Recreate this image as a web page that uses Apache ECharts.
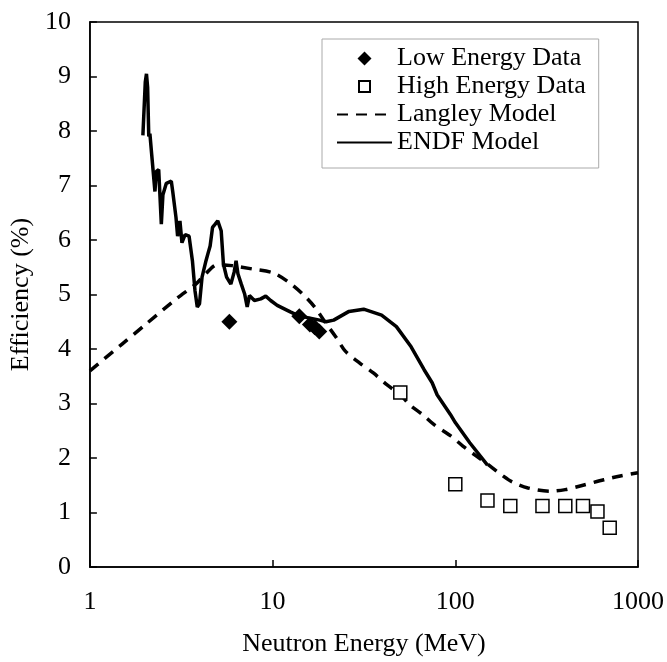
<!DOCTYPE html>
<html>
<head>
<meta charset="utf-8">
<script src="https://cdn.jsdelivr.net/npm/echarts@6/dist/echarts.min.js"></script>
<style>
  html, body { margin: 0; padding: 0; background: #fff; }
  #chart { width: 667px; height: 662px; }
</style>
</head>
<body>
<div id="chart"></div>
<script>
// measured data (energy in MeV, efficiency in %)
const lowE = [5.8, 14, 16, 17, 18];
const lowEff = [4.5, 4.6, 4.45, 4.4, 4.32];

const highE = [50, 100, 150, 200, 300, 400, 500, 600, 700];
const highEff = [3.2, 1.52, 1.22, 1.12, 1.12, 1.12, 1.12, 1.02, 0.72];

// Langley model (dashed)
const langE = [1, 1.5, 2, 3, 3.8, 4.3, 5, 6, 7.7, 10, 12.2, 14.5, 17, 19.6, 22.2, 25, 30, 35.6, 42, 50, 57, 66, 76, 94, 110, 130, 154, 181, 205, 250, 330, 400, 500, 650, 800, 1000];
const langEff = [3.6, 4.09, 4.44, 4.93, 5.19, 5.38, 5.55, 5.53, 5.47, 5.4, 5.23, 5.02, 4.77, 4.47, 4.22, 3.96, 3.74, 3.56, 3.35, 3.16, 2.96, 2.8, 2.62, 2.41, 2.22, 2.04, 1.86, 1.68, 1.56, 1.45, 1.39, 1.42, 1.5, 1.6, 1.67, 1.73];

// ENDF model (solid)
const endfE = [1.95, 2.01, 2.04, 2.07, 2.1, 2.13, 2.18, 2.27, 2.31, 2.38, 2.46, 2.51, 2.62, 2.79, 2.84, 2.96, 3.02, 3.11, 3.19, 3.32, 3.49, 3.64, 3.76, 3.87, 3.98, 4.11, 4.32, 4.47, 4.55, 4.69, 4.85, 5.01, 5.12, 5.23, 5.38, 5.6, 5.91, 6.16, 6.31, 6.46, 6.74, 7.03, 7.26, 7.47, 7.95, 8.62, 9.17, 9.76, 10.6, 12.5, 14.1, 15.3, 18.1, 19.6, 21.6, 26.2, 31.5, 39.5, 47.6, 57.3, 67.5, 74.7, 79.5, 94, 100, 120, 150];
const endfEff = [7.92, 8.9, 9.05, 8.8, 7.9, 7.95, 7.56, 6.89, 7.26, 7.29, 6.29, 6.83, 7.04, 7.08, 6.89, 6.41, 6.07, 6.35, 5.95, 6.1, 6.07, 5.62, 5.07, 4.77, 4.83, 5.32, 5.62, 5.8, 5.89, 6.23, 6.29, 6.35, 6.38, 6.17, 5.56, 5.32, 5.19, 5.41, 5.62, 5.38, 5.19, 5.01, 4.77, 4.98, 4.89, 4.92, 4.97, 4.89, 4.8, 4.68, 4.6, 4.58, 4.53, 4.5, 4.53, 4.69, 4.73, 4.62, 4.41, 4.04, 3.62, 3.38, 3.16, 2.8, 2.65, 2.28, 1.87];

function pairs(xs, ys) {
  return xs.map((x, i) => [x, ys[i]]);
}

const font = 'Liberation Serif';
// hide the dot ECharts puts on line legend icons
const noDot = {color: 'rgba(0,0,0,0)', borderWidth: 0, opacity: 0};
// path icons keep their aspect, so the marks stay square in the legend
const diamondIcon = 'path://M0,7 L7,0 L14,7 L7,14 Z';
const squareIcon = 'path://M0,0 M14,14 M1.5,1.5 L12.5,1.5 L12.5,12.5 L1.5,12.5 Z';

let myChart = echarts.init(document.getElementById('chart'), null, {renderer: 'canvas'});
let option = {
  backgroundColor: '#fff',
  animation: false,
  textStyle: {fontFamily: font, color: '#000'},
  grid: {
    left: 79, right: 29, top: 22, bottom: 90,
    show: true, borderColor: '#000', borderWidth: 1.5
  },
  legend: {
    orient: 'vertical',
    left: 322, top: 39,
    padding: [6, 13, 12, 14],
    itemWidth: 55, itemHeight: 14,
    itemGap: 1,
    symbolKeepAspect: true,
    borderColor: '#aaa', borderWidth: 1,
    textStyle: {fontFamily: font, fontSize: 26, color: '#000', lineHeight: 27},
    data: [
      {name: 'Low Energy Data', icon: diamondIcon},
      {name: 'High Energy Data', icon: squareIcon},
      {name: 'Langley Model', itemStyle: noDot},
      {name: 'ENDF Model', itemStyle: noDot}
    ]
  },
  xAxis: {
    type: 'log', logBase: 10, min: 1, max: 1000,
    name: 'Neutron Energy (MeV)', nameLocation: 'middle', nameGap: 64,
    nameTextStyle: {fontFamily: font, fontSize: 26, color: '#000'},
    axisLine: {lineStyle: {color: '#000', width: 1.5}},
    axisTick: {inside: true, length: 7, lineStyle: {color: '#000', width: 1.5}},
    minorTick: {show: false},
    splitLine: {show: false},
    axisLabel: {fontFamily: font, fontSize: 26, color: '#000', margin: 22,
      formatter: function (v) { return String(Math.round(v)); }}
  },
  yAxis: {
    type: 'value', min: 0, max: 10, interval: 1,
    name: 'Efficiency (%)', nameLocation: 'middle', nameGap: 43,
    nameTextStyle: {fontFamily: font, fontSize: 26, color: '#000'},
    axisLine: {show: true, lineStyle: {color: '#000', width: 1.5}},
    axisTick: {show: true, inside: true, length: 7, lineStyle: {color: '#000', width: 1.5}},
    splitLine: {show: false},
    axisLabel: {fontFamily: font, fontSize: 26, color: '#000', margin: 19}
  },
  series: [
    {
      name: 'Langley Model',
      type: 'line',
      data: pairs(langE, langEff),
      smooth: 0.3,
      symbol: 'none',
      lineStyle: {color: '#000', width: 3.5, type: [11, 8]},
      itemStyle: {color: '#000'},
      z: 2
    },
    {
      name: 'ENDF Model',
      type: 'line',
      data: pairs(endfE, endfEff),
      symbol: 'none',
      lineStyle: {color: '#000', width: 3.5},
      itemStyle: {color: '#000'},
      z: 3
    },
    {
      name: 'Low Energy Data',
      type: 'scatter',
      data: pairs(lowE, lowEff),
      symbol: 'diamond',
      symbolSize: 16,
      itemStyle: {color: '#000', opacity: 1},
      z: 5
    },
    {
      name: 'High Energy Data',
      type: 'scatter',
      data: pairs(highE, highEff),
      symbol: 'rect',
      symbolSize: 13,
      itemStyle: {color: '#fff', borderColor: '#000', borderWidth: 1.5, opacity: 1},
      z: 5
    }
  ]
};
myChart.setOption(option);
</script>
</body>
</html>
